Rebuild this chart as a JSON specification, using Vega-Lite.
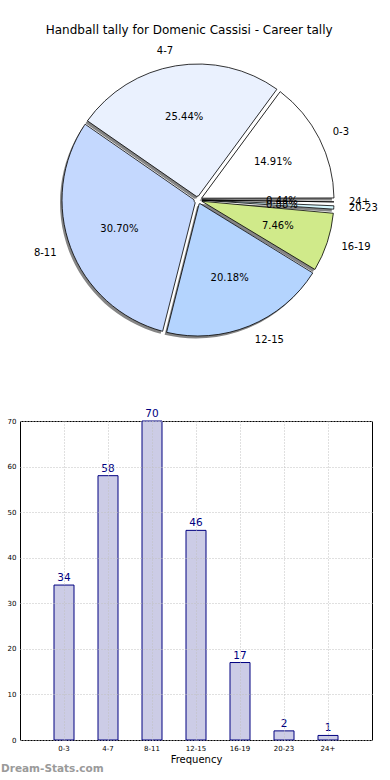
{
  "$schema": "https://vega.github.io/schema/vega-lite/v6.json",
  "padding": {"left": 0, "top": 24, "right": 0, "bottom": 0},
  "title": {"text": "Handball tally for Domenic Cassisi - Career tally", "fontSize": 12, "font": "DejaVu Sans", "fontWeight": "normal", "color": "black", "anchor": "middle", "offset": 8},
  "config": {"font": "DejaVu Sans", "view": {"stroke": null}},
  "data": {"values": [
    {"cat": "0-3", "n": 34, "k": 0, "pct": "14.91%"},
    {"cat": "4-7", "n": 58, "k": 1, "pct": "25.44%"},
    {"cat": "8-11", "n": 70, "k": 2, "pct": "30.70%"},
    {"cat": "12-15", "n": 46, "k": 3, "pct": "20.18%"},
    {"cat": "16-19", "n": 17, "k": 4, "pct": "7.46%"},
    {"cat": "20-23", "n": 2, "k": 5, "pct": "0.88%"},
    {"cat": "24+", "n": 1, "k": 6, "pct": "0.44%"}
  ]},
  "bounds": "flush",
  "spacing": 66,
  "vconcat": [
    {
      "width": 356,
      "height": 310,
      "encoding": {
        "theta": {"field": "n", "type": "quantitative", "stack": true, "scale": {"range": [1.5708, 7.854]}},
        "order": {"field": "k", "type": "quantitative", "sort": "descending"}
      },
      "layer": [
        {"mark": {"type": "arc", "radius": 136, "innerRadius": 4, "padAngle": 0.03, "fill": "#858585", "xOffset": -2, "yOffset": 2.5},
         "encoding": {"detail": {"field": "cat"}}},
        {"mark": {"type": "arc", "radius": 136, "innerRadius": 4, "padAngle": 0.03, "stroke": "black", "strokeWidth": 0.8},
         "encoding": {"color": {"field": "cat", "type": "nominal", "legend": null,
           "scale": {"domain": ["0-3", "4-7", "8-11", "12-15", "16-19", "20-23", "24+"],
                     "range": ["#ffffff", "#eaf1fe", "#c4d8fe", "#b4d4fe", "#d0ea8a", "#d7f8ff", "#f2f2f2"]}}}},
        {"mark": {"type": "text", "radius": 84, "fontSize": 10, "color": "black"},
         "encoding": {"text": {"field": "pct", "type": "nominal"}, "detail": {"field": "cat"}}},
        {"mark": {"type": "text", "radius": 151, "fontSize": 10, "align": "left", "color": "black"},
         "encoding": {"text": {"field": "cat", "type": "nominal"}, "detail": {"field": "cat"},
           "opacity": {"condition": {"test": "datum.k == 0 || datum.k >= 3", "value": 1}, "value": 0}}},
        {"mark": {"type": "text", "radius": 151, "fontSize": 10, "align": "right", "color": "black"},
         "encoding": {"text": {"field": "cat", "type": "nominal"}, "detail": {"field": "cat"},
           "opacity": {"condition": {"test": "datum.k == 1 || datum.k == 2", "value": 1}, "value": 0}}}
      ]
    },
    {
      "width": 352,
      "height": 319,
      "view": {"stroke": "black", "strokeWidth": 1},
      "title": {"text": "Dream-Stats.com", "orient": "bottom", "anchor": "start", "frame": "bounds", "fontSize": 10.5, "fontWeight": "bold", "color": "#9a9a9a", "offset": 0},
      "encoding": {
        "x": {"field": "cat", "type": "nominal", "sort": null,
          "scale": {"paddingInner": 0, "paddingOuter": 0.5},
          "axis": {"title": "Frequency", "labelAngle": 0, "labelFontSize": 7, "labelColor": "black", "tickSize": 0, "domain": false,
                   "grid": true, "gridDash": [1, 2], "gridColor": "#c0c0c0", "bandPosition": 0.5, "zindex": 1,
                   "titleFontSize": 10, "titleFontWeight": "normal", "titleColor": "black", "titlePadding": 3, "labelPadding": 4}},
        "y": {"field": "n", "type": "quantitative", "scale": {"domain": [0, 70], "nice": false},
          "axis": {"title": null, "values": [0, 10, 20, 30, 40, 50, 60, 70], "labelFontSize": 7, "labelColor": "black", "tickSize": 0,
                   "domain": false, "gridDash": [1, 2], "gridColor": "#c0c0c0", "labelPadding": 4, "minExtent": 19, "maxExtent": 19, "zindex": 1}}
      },
      "layer": [
        {"mark": {"type": "bar", "width": 20, "fill": "#ccccE6", "stroke": "#000080", "strokeWidth": 1}},
        {"mark": {"type": "text", "baseline": "bottom", "dy": -2, "fontSize": 10.5, "color": "#000080"},
         "encoding": {"text": {"field": "n", "type": "quantitative"}}}
      ]
    }
  ]
}
